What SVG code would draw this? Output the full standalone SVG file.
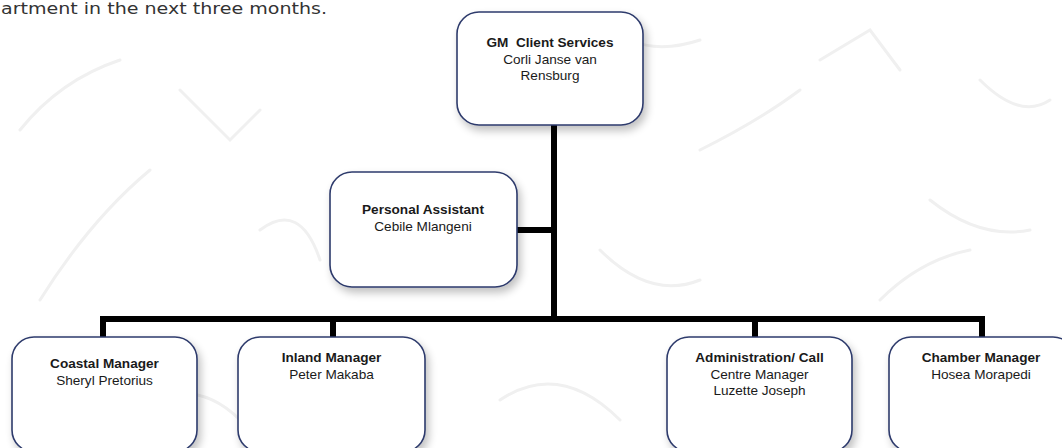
<svg xmlns="http://www.w3.org/2000/svg" width="1062" height="448" viewBox="0 0 1062 448">
<style>
.box{fill:#ffffff;stroke:#2e3b6c;stroke-width:1.6;filter:url(#sh)}
.conn{stroke:#000;stroke-width:6;fill:none;stroke-linecap:butt}
.t{font-family:"Liberation Sans",Arial,sans-serif;font-size:13.6px;fill:#1a1a1a;text-anchor:middle}
.b{font-weight:bold}
.bg{fill:none;stroke:#f0f0f0;stroke-width:3;stroke-linecap:round}
</style>
<defs>
<filter id="sh" x="-10%" y="-10%" width="125%" height="130%">
<feGaussianBlur in="SourceAlpha" stdDeviation="4"/>
<feOffset dx="3" dy="5" result="o"/>
<feComponentTransfer><feFuncA type="linear" slope="0.25"/></feComponentTransfer>
<feMerge><feMergeNode/><feMergeNode in="SourceGraphic"/></feMerge>
</filter>
</defs>
<rect width="1062" height="448" fill="#ffffff"/>
<g id="background">
<path class="bg" d="M20 130 Q60 80 120 60 M40 300 Q90 220 150 170 M180 90 L230 140 L260 110 M600 20 Q640 60 700 40 M700 150 Q760 120 800 90 M820 60 L870 30 L900 70 M930 200 Q980 240 1030 230 M880 300 Q920 260 970 250 M600 250 Q650 300 700 280 M150 400 Q200 380 240 420 M500 400 Q560 360 620 420 M980 80 Q1020 120 1050 100 M260 230 Q300 200 320 260"/>
</g>
<text x="1" y="14" style="font-family:'DejaVu Sans',sans-serif;font-size:15px;fill:#333" textLength="326" lengthAdjust="spacingAndGlyphs">artment in the next three months.</text>
<g id="connectors">
<path class="conn" d="M554 125 V319"/>
<path class="conn" d="M517 230 H554"/>
<path class="conn" d="M100 319 H985"/>
<path class="conn" d="M103 319 V337"/>
<path class="conn" d="M333 319 V337"/>
<path class="conn" d="M755 319 V337"/>
<path class="conn" d="M982 316 V337"/>
</g>
<g id="gm">
<rect class="box" x="457" y="12" width="186" height="113" rx="22"/>
<text class="t" y="47"><tspan class="b" x="550" xml:space="preserve">GM  Client Services</tspan><tspan x="550" dy="16.5">Corli Janse van</tspan><tspan x="550" dy="16.5">Rensburg</tspan></text>
</g>
<g id="pa">
<rect class="box" x="330" y="172" width="187" height="115" rx="22"/>
<text class="t" y="214"><tspan class="b" x="423">Personal Assistant</tspan><tspan x="423" dy="16.5">Cebile Mlangeni</tspan></text>
</g>
<g id="coastal">
<rect class="box" x="12" y="337" width="185" height="115" rx="22"/>
<text class="t" y="368"><tspan class="b" x="104.5">Coastal Manager</tspan><tspan x="104.5" dy="16.5">Sheryl Pretorius</tspan></text>
</g>
<g id="inland">
<rect class="box" x="238" y="337" width="187" height="115" rx="22"/>
<text class="t" y="362"><tspan class="b" x="331.5">Inland Manager</tspan><tspan x="331.5" dy="16.5">Peter Makaba</tspan></text>
</g>
<g id="admin">
<rect class="box" x="667" y="337" width="185" height="115" rx="22"/>
<text class="t" y="362"><tspan class="b" x="759.5">Administration/ Call</tspan><tspan x="759.5" dy="16.5">Centre Manager</tspan><tspan x="759.5" dy="16.5">Luzette Joseph</tspan></text>
</g>
<g id="chamber">
<rect class="box" x="889" y="337" width="186" height="115" rx="22"/>
<text class="t" y="362"><tspan class="b" x="981">Chamber Manager</tspan><tspan x="981" dy="16.5">Hosea Morapedi</tspan></text>
</g>
</svg>
